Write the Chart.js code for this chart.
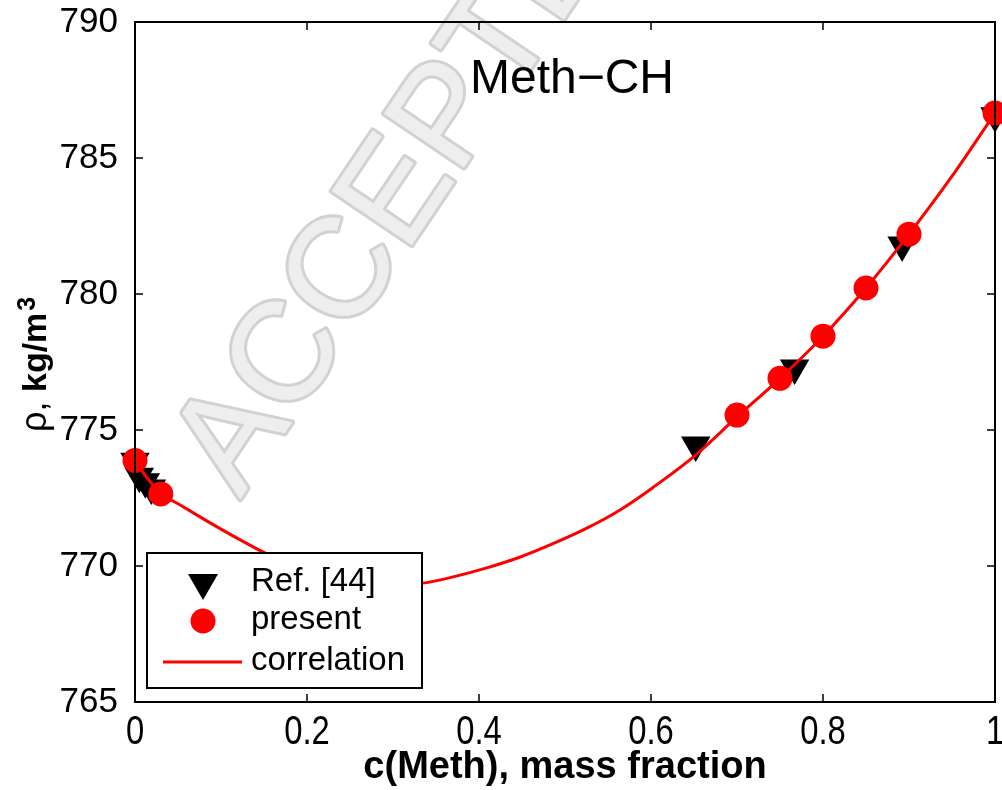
<!DOCTYPE html>
<html>
<head>
<meta charset="utf-8">
<script src="https://cdn.jsdelivr.net/npm/chart.js@4.4.1/dist/chart.umd.min.js"></script>
<style>
  body { margin: 0; background: #fff; }
  #box { width: 1002px; height: 790px; }
</style>
</head>
<body>
<div id="box"><canvas id="densityChart" width="1002" height="790"></canvas></div>
<script>
// dati
const refX = [0, 0.005, 0.012, 0.019, 0.652, 0.767, 0.892, 1.0];
const refY = [773.85, 773.3, 773.1, 772.87, 774.45, 777.28, 781.8, 786.55];

const presentX = [0, 0.03, 0.7, 0.75, 0.8, 0.85, 0.9, 1.0];
const presentY = [773.88, 772.65, 775.55, 776.9, 778.45, 780.22, 782.2, 786.65];

const corrX = [0, 0.015, 0.03, 0.055, 0.078, 0.116, 0.151, 0.2, 0.25, 0.3, 0.335, 0.37, 0.409, 0.448, 0.486, 0.526, 0.564, 0.602, 0.649, 0.7, 0.75, 0.8, 0.85, 0.9, 0.95, 1.0];
const corrY = [773.88, 773.2, 772.68, 772.2, 771.76, 771.07, 770.48, 769.8, 769.42, 769.3, 769.37, 769.6, 769.93, 770.33, 770.82, 771.4, 772.06, 772.88, 774.0, 775.48, 776.9, 778.45, 780.22, 782.2, 784.33, 786.65];

const xTicks = [0, 0.2, 0.4, 0.6, 0.8, 1];
const xTickLabels = ["0", "0.2", "0.4", "0.6", "0.8", "1"];
const yTicks = [765, 770, 775, 780, 785, 790];
const yTickLabels = ["765", "770", "775", "780", "785", "790"];

const legendLabels = ["Ref. [44]", "present", "correlation"];
const panelTitle = "Meth\u2212CH";

function toPoints(xs, ys) {
  return xs.map(function (x, i) { return { x: x, y: ys[i] }; });
}

// filigrana grigia "ACCEPTED MANUSCRIPT"
const watermark = {
  id: "watermark",
  beforeDraw: function (chart) {
    const ctx = chart.ctx;
    ctx.save();
    ctx.translate(208, 478);
    ctx.rotate(-56 * Math.PI / 180);
    ctx.font = "140px 'Liberation Sans', Arial, sans-serif";
    ctx.textBaseline = "middle";
    ctx.textAlign = "left";
    ctx.lineJoin = "round";
    ctx.strokeStyle = "#d2d2d2";
    ctx.lineWidth = 6;
    ctx.strokeText("ACCEPTED MANUSCRIPT", 0, 0);
    ctx.fillStyle = "#eeeeee";
    ctx.fillText("ACCEPTED MANUSCRIPT", 0, 0);
    ctx.restore();
  }
};

// cornice, tacche interne, etichette, titolo del pannello e legenda
const frame = {
  id: "frame",
  afterDraw: function (chart) {
    const ctx = chart.ctx;
    const ca = chart.chartArea;
    const xs = chart.scales.x;
    const ys = chart.scales.y;
    ctx.save();
    ctx.strokeStyle = "#000";
    ctx.lineWidth = 1.5;
    ctx.beginPath();
    xTicks.forEach(function (v) {
      const px = xs.getPixelForValue(v);
      ctx.moveTo(px, ca.bottom); ctx.lineTo(px, ca.bottom - 8);
      ctx.moveTo(px, ca.top); ctx.lineTo(px, ca.top + 8);
    });
    yTicks.forEach(function (v) {
      const py = ys.getPixelForValue(v);
      ctx.moveTo(ca.left, py); ctx.lineTo(ca.left + 8, py);
      ctx.moveTo(ca.right, py); ctx.lineTo(ca.right - 8, py);
    });
    ctx.stroke();
    ctx.lineWidth = 2;
    ctx.strokeRect(ca.left, ca.top, ca.right - ca.left, ca.bottom - ca.top);

    // etichette asse x (strette)
    ctx.fillStyle = "#000";
    ctx.font = "41px 'Liberation Sans', Arial, sans-serif";
    ctx.textAlign = "center";
    ctx.textBaseline = "top";
    xTicks.forEach(function (v, i) {
      ctx.save();
      ctx.translate(xs.getPixelForValue(v), ca.bottom + 10);
      ctx.scale(0.8, 1);
      ctx.fillText(xTickLabels[i], 0, 0);
      ctx.restore();
    });

    // titolo asse y: ρ, kg/m^3
    ctx.save();
    ctx.translate(46, 432);
    ctx.rotate(-Math.PI / 2);
    ctx.textAlign = "left";
    ctx.textBaseline = "alphabetic";
    ctx.font = "36px 'Liberation Sans', Arial, sans-serif";
    ctx.fillText("\u03c1,", 0, 0);
    ctx.font = "bold 34px 'Liberation Sans', Arial, sans-serif";
    ctx.fillText("kg/m", 40, 0);
    const w = ctx.measureText("kg/m").width;
    ctx.font = "bold 25px 'Liberation Sans', Arial, sans-serif";
    ctx.fillText("3", 40 + w + 2, -11);
    ctx.restore();

    // titolo
    ctx.font = "48px 'Liberation Sans', Arial, sans-serif";
    ctx.textAlign = "center";
    ctx.textBaseline = "alphabetic";
    ctx.fillText(panelTitle, 572, ca.top + 71);

    // legenda
    const lx = ca.left + 12, ly = ca.bottom - 149, lw = 275, lh = 135;
    ctx.fillStyle = "#fff";
    ctx.fillRect(lx, ly, lw, lh);
    ctx.lineWidth = 2;
    ctx.strokeStyle = "#000";
    ctx.strokeRect(lx, ly, lw, lh);

    const mx = lx + 56;
    const rows = [ly + 30, ly + 68, ly + 109];
    ctx.fillStyle = "#000";
    ctx.beginPath();
    ctx.moveTo(mx - 15, rows[0] - 9);
    ctx.lineTo(mx + 15, rows[0] - 9);
    ctx.lineTo(mx, rows[0] + 17);
    ctx.closePath();
    ctx.fill();
    ctx.fillStyle = "#ff0000";
    ctx.beginPath();
    ctx.arc(mx, rows[1], 12.5, 0, Math.PI * 2);
    ctx.fill();
    ctx.strokeStyle = "#ff0000";
    ctx.lineWidth = 3;
    ctx.beginPath();
    ctx.moveTo(lx + 16, rows[2]);
    ctx.lineTo(lx + 95, rows[2]);
    ctx.stroke();

    ctx.fillStyle = "#000";
    ctx.font = "33px 'Liberation Sans', Arial, sans-serif";
    ctx.textAlign = "left";
    ctx.textBaseline = "middle";
    legendLabels.forEach(function (t, i) {
      ctx.fillText(t, lx + 104, rows[i] - 1);
    });
    ctx.restore();
  }
};

const ctx = document.getElementById("densityChart").getContext("2d");
const densityChart = new Chart(ctx, {
  type: "scatter",
  data: {
    datasets: [
      {
        label: legendLabels[0],
        data: toPoints(refX, refY),
        pointStyle: "triangle",
        rotation: 180,
        pointRadius: 17,
        backgroundColor: "#000",
        borderColor: "#000",
        borderWidth: 0,
        clip: false,
        order: 3
      },
      {
        label: legendLabels[2],
        type: "line",
        data: toPoints(corrX, corrY),
        borderColor: "#ff0000",
        borderWidth: 3,
        pointRadius: 0,
        fill: false,
        showLine: true,
        clip: false,
        cubicInterpolationMode: "monotone",
        order: 2
      },
      {
        label: legendLabels[1],
        data: toPoints(presentX, presentY),
        pointStyle: "circle",
        pointRadius: 12.5,
        backgroundColor: "#ff0000",
        borderColor: "#ff0000",
        borderWidth: 0,
        clip: false,
        order: 1
      }
    ]
  },
  options: {
    responsive: false,
    animation: false,
    layout: { autoPadding: false, padding: { top: 22, right: 7, left: 0, bottom: 0 } },
    plugins: {
      legend: { display: false },
      tooltip: { enabled: false }
    },
    scales: {
      x: {
        type: "linear",
        min: 0,
        max: 1,
        afterBuildTicks: function (s) { s.ticks = xTicks.map(function (v) { return { value: v }; }); },
        afterFit: function (s) { s.height = 88; s.paddingLeft = 0; s.paddingRight = 0; },
        grid: { display: false },
        border: { display: false },
        ticks: { display: false },
        title: {
          display: true,
          text: "c(Meth), mass fraction",
          color: "#000",
          padding: { top: 0, bottom: 0 },
          font: { family: "'Liberation Sans', Arial", size: 38, weight: "bold" }
        }
      },
      y: {
        type: "linear",
        min: 765,
        max: 790,
        afterBuildTicks: function (s) { s.ticks = yTicks.map(function (v) { return { value: v }; }); },
        afterFit: function (s) { s.width = 135; s.paddingTop = 0; s.paddingBottom = 0; },
        grid: { display: false },
        border: { display: false },
        ticks: {
          color: "#000",
          padding: 9,
          font: { family: "'Liberation Sans', Arial", size: 35 },
          callback: function (v) { return yTickLabels[yTicks.indexOf(v)]; }
        },
        title: { display: false }
      }
    }
  },
  plugins: [watermark, frame]
});
</script>
</body>
</html>
